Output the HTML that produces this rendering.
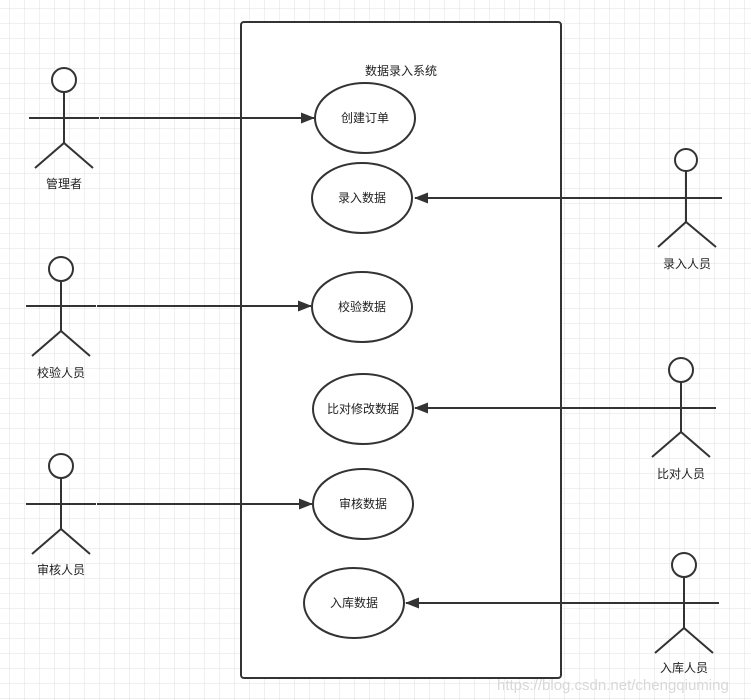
<!DOCTYPE html>
<html><head><meta charset="utf-8"><style>
html,body{margin:0;padding:0;background:#fff;}
svg{display:block;}
text{font-family:"Liberation Sans","Noto Sans CJK SC",sans-serif;font-size:12px;fill:#222;}
</style></head><body>
<svg width="751" height="700" viewBox="0 0 751 700" xmlns="http://www.w3.org/2000/svg">
<defs>
<pattern id="g" x="9" y="8" width="15" height="15" patternUnits="userSpaceOnUse">
<path d="M0 0H15M0 0V15" stroke="#e0e0e0" stroke-width="1" fill="none"/>
</pattern>
<marker id="a" markerWidth="14" markerHeight="11" refX="13" refY="5.5" orient="auto" markerUnits="userSpaceOnUse">
<path d="M0 0L14 5.5L0 11Z" fill="#333"/>
</marker>
</defs>
<rect width="751" height="700" fill="url(#g)"/>
<rect x="241" y="22" width="320" height="656" rx="3" fill="#fff" stroke="#333" stroke-width="2"/>
<text x="401" y="75" text-anchor="middle">数据录入系统</text>

<g stroke="#333" stroke-width="2" fill="none">
<line x1="100" y1="118" x2="314" y2="118" marker-end="url(#a)"/>
<line x1="722" y1="198" x2="415" y2="198" marker-end="url(#a)"/>
<line x1="97" y1="306" x2="311" y2="306" marker-end="url(#a)"/>
<line x1="716" y1="408" x2="415" y2="408" marker-end="url(#a)"/>
<line x1="97" y1="504" x2="312" y2="504" marker-end="url(#a)"/>
<line x1="719" y1="603" x2="406" y2="603" marker-end="url(#a)"/>

<ellipse cx="365" cy="118" rx="50" ry="35" fill="#fff"/>
<ellipse cx="362" cy="198" rx="50" ry="35" fill="#fff"/>
<ellipse cx="362" cy="307" rx="50" ry="35" fill="#fff"/>
<ellipse cx="363" cy="409" rx="50" ry="35" fill="#fff"/>
<ellipse cx="363" cy="504" rx="50" ry="35" fill="#fff"/>
<ellipse cx="354" cy="603" rx="50" ry="35" fill="#fff"/>

<g>
<circle cx="64" cy="80" r="12" fill="#fff"/><path d="M64 92V143M29 118H99M35 168L64 143L93 168"/>
</g>
<g>
<circle cx="686" cy="160" r="11" fill="#fff"/><path d="M686 171V222M651 198H722M658 247L686 222L716 247"/>
</g>
<g>
<circle cx="61" cy="269" r="12" fill="#fff"/><path d="M61 281V331M26 306H96M32 356L61 331L90 356"/>
</g>
<g>
<circle cx="681" cy="370" r="12" fill="#fff"/><path d="M681 382V432M646 408H716M652 457L681 432L710 457"/>
</g>
<g>
<circle cx="61" cy="466" r="12" fill="#fff"/><path d="M61 478V529M26 504H96M32 554L61 529L90 554"/>
</g>
<g>
<circle cx="684" cy="565" r="12" fill="#fff"/><path d="M684 577V628M648 603H719M655 653L684 628L713 653"/>
</g>
</g>

<g text-anchor="middle">
<text x="365" y="122">创建订单</text>
<text x="362" y="202">录入数据</text>
<text x="362" y="311">校验数据</text>
<text x="363" y="413">比对修改数据</text>
<text x="363" y="508">审核数据</text>
<text x="354" y="607">入库数据</text>
<text x="64" y="188">管理者</text>
<text x="687" y="268">录入人员</text>
<text x="61" y="377">校验人员</text>
<text x="681" y="478">比对人员</text>
<text x="61" y="574">审核人员</text>
<text x="684" y="672">入库人员</text>
</g>
<text x="497" y="690" style="font-size:15px;fill:#d8d8d8;">https://blog.csdn.net/chengqiuming</text>
</svg>
</body></html>
